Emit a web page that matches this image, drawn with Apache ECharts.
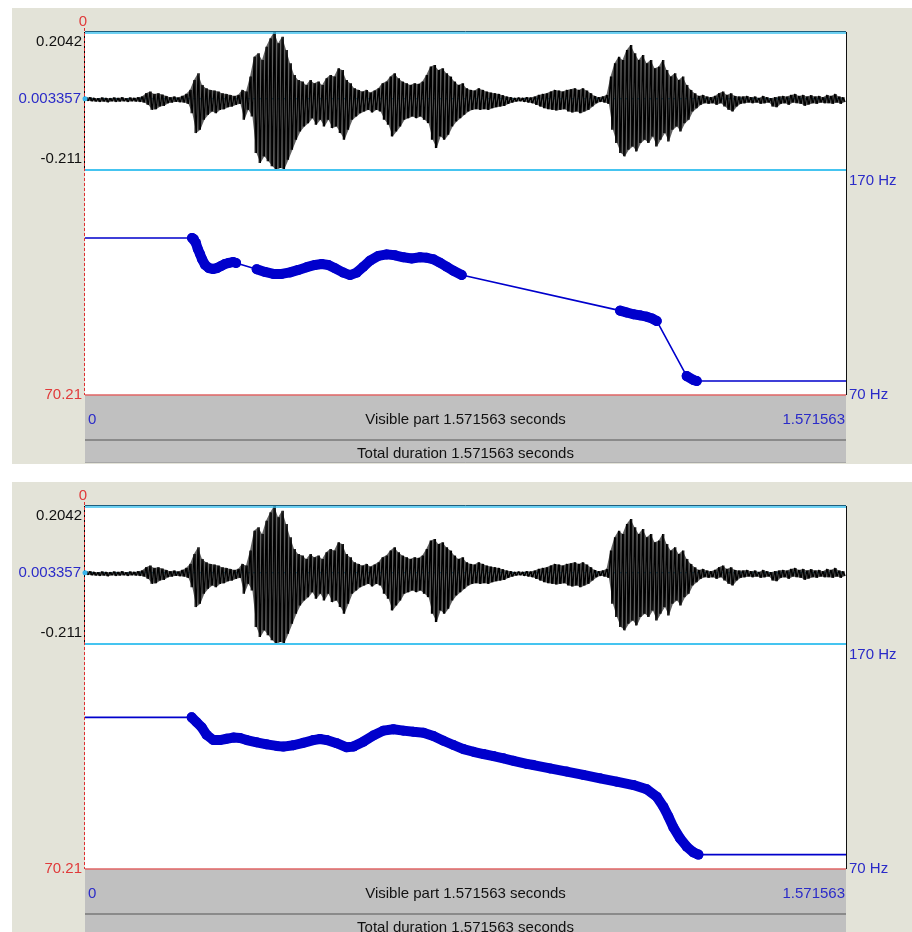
<!DOCTYPE html>
<html><head><meta charset="utf-8">
<script src="https://cdn.jsdelivr.net/npm/echarts@6/dist/echarts.min.js"></script>
<style>html,body{margin:0;padding:0;background:#fff}#c{width:912px;height:932px}</style>
</head><body><div id="c"></div>
<script>
// ---------- data ----------
const T_END = 1.571563;
const waveTicks = [0.2042, 0.003357, -0.211]; // top, centre, bottom of the sound window
const pitchRange = [70, 170];
const pitchTickLabels = ['170 Hz', '70 Hz'];
const cursorPitchLabel = '70.21';
const cursorTimeLabel = '0';

// waveform envelope (peak values per column)
const waveMax = [
0.007,0.008,0.006,0.005,0.007,0.006,0.005,0.007,0.006,0.008,0.005,0.007,0.006,0.008,0.010,
0.020,0.025,0.018,0.020,0.016,0.012,0.008,0.010,0.007,0.012,0.018,
0.030,0.060,0.080,0.045,0.035,0.030,0.028,0.025,0.020,0.018,0.015,0.012,0.015,
0.030,0.025,0.070,0.130,0.140,0.120,0.160,0.185,0.204,0.170,0.190,0.150,
0.110,0.075,0.060,0.055,0.045,0.060,0.050,0.055,0.045,0.065,0.075,0.070,
0.095,0.090,0.060,0.050,0.035,0.030,0.025,0.030,0.022,0.028,0.035,0.050,0.055,
0.070,0.080,0.065,0.055,0.050,0.045,0.050,0.048,0.055,0.075,
0.100,0.105,0.090,0.095,0.080,0.070,0.055,0.045,0.050,0.035,
0.030,0.028,0.035,0.030,0.025,0.022,0.020,0.018,0.014,0.010,0.008,0.006,0.007,0.006,0.008,0.007,
0.010,0.015,0.018,0.020,0.025,0.030,0.028,0.025,0.030,0.032,0.035,0.030,0.035,0.028,0.020,0.012,0.008,0.010,0.015,
0.070,0.110,0.130,0.120,0.150,0.165,0.140,0.120,0.135,0.110,0.120,0.095,
0.100,0.120,0.090,0.070,0.080,0.060,0.070,0.045,0.030,0.020,0.012,
0.015,0.010,0.008,0.012,0.020,0.025,0.015,0.020,0.012,0.010,0.010,0.012,0.008,0.010,0.006,0.012,0.008,
0.005,0.008,0.010,0.012,0.010,0.015,0.018,0.012,0.015,0.010,0.014,0.010,0.012,0.008,0.015,0.012,0.018,0.010,0.008
];
const waveMin = [
-0.003,-0.004,-0.005,-0.006,-0.005,-0.007,-0.004,-0.006,-0.005,-0.004,-0.006,-0.004,-0.005,-0.006,-0.008,
-0.015,-0.030,-0.028,-0.020,-0.018,-0.010,-0.008,-0.006,-0.007,-0.008,-0.012,
-0.040,-0.100,-0.090,-0.060,-0.045,-0.035,-0.040,-0.030,-0.028,-0.022,-0.020,-0.015,-0.012,
-0.060,-0.030,-0.050,-0.160,-0.190,-0.170,-0.185,-0.200,-0.211,-0.205,-0.208,-0.180,
-0.150,-0.120,-0.095,-0.080,-0.070,-0.055,-0.075,-0.060,-0.080,-0.060,-0.085,-0.080,
-0.100,-0.120,-0.090,-0.060,-0.050,-0.040,-0.035,-0.030,-0.038,-0.030,-0.035,-0.060,-0.075,
-0.110,-0.095,-0.080,-0.060,-0.055,-0.050,-0.055,-0.050,-0.060,-0.070,
-0.120,-0.145,-0.110,-0.120,-0.105,-0.080,-0.065,-0.055,-0.045,-0.035,
-0.030,-0.028,-0.030,-0.028,-0.030,-0.025,-0.022,-0.020,-0.018,-0.012,-0.008,-0.005,-0.004,-0.006,-0.008,-0.010,
-0.015,-0.020,-0.025,-0.028,-0.030,-0.032,-0.030,-0.028,-0.035,-0.038,-0.035,-0.040,-0.035,-0.030,-0.020,-0.010,-0.006,-0.008,-0.012,
-0.090,-0.130,-0.160,-0.170,-0.150,-0.140,-0.155,-0.130,-0.120,-0.130,-0.110,-0.140,
-0.120,-0.100,-0.125,-0.090,-0.080,-0.095,-0.070,-0.060,-0.035,-0.025,-0.015,
-0.010,-0.012,-0.010,-0.015,-0.010,-0.020,-0.030,-0.035,-0.020,-0.012,-0.010,-0.008,-0.010,-0.008,-0.012,-0.010,-0.008,
-0.020,-0.022,-0.012,-0.010,-0.015,-0.008,-0.010,-0.012,-0.018,-0.014,-0.010,-0.012,-0.008,-0.010,-0.010,-0.012,-0.008,-0.012,-0.006
];

// pitch points, upper panel
const topPitchT = [0.221,0.225,0.229,0.233,0.2375,0.2416,0.248,0.256,0.2644,0.2726,0.281,0.289,0.297,0.3057,0.312,
  0.3546,0.3717,0.3889,0.4062,0.4234,0.4406,0.4579,0.475,0.4888,0.5025,0.5163,0.5335,0.5473,0.5611,0.5748,0.5886,0.6058,0.6231,0.6403,0.6574,0.6747,0.6919,0.7057,0.7193,0.7332,0.747,0.7607,0.778,
  1.105,1.118,1.1324,1.146,1.160,1.171,1.1807,
  1.2426,1.2563,1.2633];
const topPitchHz = [139.8,139.3,137.6,134.9,132.7,130.4,127.8,126.4,126.0,126.4,127.3,128.2,128.7,129.1,128.7,
  125.9,124.7,123.8,123.8,124.5,125.6,126.8,127.8,128.2,127.8,126.3,124.4,123.3,124.4,127.0,129.7,131.8,132.5,132.1,131.2,130.7,131.2,131.0,130.3,128.8,127.0,125.2,123.3,
  107.5,106.7,105.9,105.4,104.8,104.0,102.9,
  78.4,76.7,76.2];

// pitch points, lower panel
const botPitchT = [0.2203,0.2306,0.2409,0.2513,0.265,0.2788,0.2926,0.3064,0.3201,0.3339,0.3545,0.3752,0.3958,0.4096,0.4303,0.4509,0.4716,0.4853,0.4991,0.5198,
  0.5404,0.5542,0.5748,0.5955,0.6162,0.6368,0.6575,0.6781,0.6988,0.7194,0.7401,0.7608,0.7814,0.8021,0.8227,0.8434,0.864,0.8847,0.9122,0.9259,
  0.9603,0.9948,1.0292,1.0636,1.098,1.1325,1.16,1.1807,1.1945,1.2048,1.2151,1.2289,1.2427,1.2565,1.2668];
const botPitchHz = [137.4,135.2,133.0,129.6,127.3,127.3,127.9,128.4,128.2,127.3,126.3,125.4,124.7,124.4,125.0,126.1,127.3,127.8,127.3,125.9,
  124.1,124.4,126.6,129.3,131.5,132.1,131.5,131.0,130.6,129.1,127.0,125.1,123.3,122.1,121.1,120.2,119.2,118.1,116.7,116.2,
  114.7,113.3,111.8,110.3,108.8,107.3,105.4,102.1,97.7,93.3,88.5,83.6,79.9,77.4,76.4];

// ---------- rendering ----------
const FONT = '15px "Liberation Sans", Arial, sans-serif';
const PITCH_BLUE = '#0000CC';
const LBL_BLUE = '#2B2BC8';
const LBL_RED = '#E03A3A';
const BEIGE = '#E3E3D8';
const L = 85, W = 761, WAVE_H = 138, PITCH_H = 225;
const panels = [
  {off: 0, t: topPitchT, hz: topPitchHz},
  {off: 474, t: botPitchT, hz: botPitchHz}
];

const dt = T_END / waveMax.length;
const waveZig = [];
waveMax.forEach((v, i) => { waveZig.push([(i + 0.2) * dt, v]); waveZig.push([(i + 0.8) * dt, waveMin[i]]); });
const waveCols = waveMax.map((v, i) => [(i + 0.5) * dt, v, waveMin[i]]);

const grid = [], xAxis = [], yAxis = [], series = [];
panels.forEach((p, k) => {
  const gw = k * 2, gp = k * 2 + 1;
  grid.push({left: L, top: 32 + p.off, width: W, height: WAVE_H, show: false});
  grid.push({left: L, top: 170 + p.off, width: W, height: PITCH_H, show: false});
  [gw, gp].forEach(g => xAxis.push({type: 'value', gridIndex: g, min: 0, max: T_END, show: false}));
  yAxis.push({type: 'value', gridIndex: gw, min: waveTicks[2], max: waveTicks[0], show: false});
  yAxis.push({type: 'value', gridIndex: gp, min: pitchRange[0], max: pitchRange[1], show: false});

  series.push({type: 'line', xAxisIndex: gw, yAxisIndex: gw, z: 2, symbol: 'none', silent: true,
    data: [[0, waveTicks[1]], [T_END, waveTicks[1]]],
    lineStyle: {color: '#38B4EC', width: 1, type: [3, 3]}});
  // shaded body of the waveform between the peaks
  series.push({type: 'custom', xAxisIndex: gw, yAxisIndex: gw, z: 3, silent: true,
    data: [[0, waveTicks[1]]],
    renderItem: (params, api) => {
      const pts = waveZig.filter((d, i) => i % 2 === 0).map(d => api.coord(d))
        .concat(waveZig.filter((d, i) => i % 2 === 1).reverse().map(d => api.coord(d)));
      return {type: 'polygon', shape: {points: pts}, style: {fill: 'rgba(0,0,0,0.62)'}};
    }});
  // vertical strokes from trough to peak of every column
  series.push({type: 'custom', xAxisIndex: gw, yAxisIndex: gw, z: 4, silent: true,
    data: waveCols, encode: {x: 0, y: [1, 2]},
    renderItem: (params, api) => {
      const a = api.coord([api.value(0), api.value(1)]);
      const b = api.coord([api.value(0), api.value(2)]);
      return {type: 'line', shape: {x1: a[0], y1: a[1], x2: b[0], y2: b[1]}, style: {stroke: '#000', lineWidth: 1.2}};
    }});
  series.push({type: 'line', xAxisIndex: gw, yAxisIndex: gw, z: 5, symbol: 'none', silent: true,
    data: waveZig, lineStyle: {color: '#000', width: 1.2}});

  const pts = p.t.map((t, i) => [t, p.hz[i]]);
  series.push({type: 'line', xAxisIndex: gp, yAxisIndex: gp, z: 3, symbol: 'none', silent: true,
    data: [[0, pts[0][1]], ...pts, [T_END, pts[pts.length - 1][1]]],
    lineStyle: {color: PITCH_BLUE, width: 1.6}});
  // voiced stretches drawn as chains of big dots
  let seg = [pts[0]];
  const segs = [];
  for (let i = 1; i < pts.length; i++) {
    if (pts[i][0] - pts[i - 1][0] > 0.035) { segs.push(seg); seg = []; }
    seg.push(pts[i]);
  }
  segs.push(seg);
  segs.forEach(s => series.push({type: 'line', xAxisIndex: gp, yAxisIndex: gp, z: 4, silent: true,
    data: s, symbol: 'circle', symbolSize: 10, showAllSymbol: true,
    itemStyle: {color: PITCH_BLUE}, lineStyle: {color: PITCH_BLUE, width: 10, cap: 'round', join: 'round'}}));
});

const chart = echarts.init(document.getElementById('c'), null, {renderer: 'canvas'});
chart.setOption({animation: false, grid, xAxis, yAxis, series});

function txt(text, x, y, fill, align) {
  return {type: 'text', z: 50, silent: true,
    style: {text, x, y, fill, font: FONT, align, textAlign: align, verticalAlign: 'middle', textVerticalAlign: 'middle'}};
}
function line(x1, y1, x2, y2, stroke, lineWidth, dash) {
  return {type: 'line', z: 40, silent: true, shape: {x1, y1, x2, y2},
    style: {stroke, lineWidth, lineDash: dash || null}};
}

const elements = [];
panels.forEach((p, k) => {
  const gw = k * 2, gp = k * 2 + 1;
  const o = p.off;
  const px = (g, x, y) => chart.convertToPixel({gridIndex: g}, [x, y]);
  const [x0, yTop] = px(gw, 0, waveTicks[0]);
  const [x1, yMid] = px(gw, T_END, waveTicks[1]);
  const yBot = px(gw, 0, waveTicks[2])[1];
  const yPTop = px(gp, 0, pitchRange[1])[1];
  const yPBot = px(gp, 0, pitchRange[0])[1];

  elements.push({type: 'rect', z: -100, silent: true, shape: {x: 12, y: 8 + o, width: 900, height: 456}, style: {fill: BEIGE}});
  elements.push({type: 'rect', z: -90, silent: true, shape: {x: x0, y: yTop, width: x1 - x0, height: yPBot - yTop}, style: {fill: '#fff'}});
  elements.push({type: 'rect', z: -90, silent: true, shape: {x: x0, y: yPBot, width: x1 - x0, height: 68}, style: {fill: '#C0C0C0'}});
  elements.push(line(x0, yPBot + 45, x1, yPBot + 45, '#8A8A8A', 2));
  elements.push(line(x0, yPBot + 67.5, x1, yPBot + 67.5, '#A8A8A8', 1));
  // sound window frame
  elements.push(line(x0, yTop - 0.5, x1, yTop - 0.5, '#1E5F7E', 1));
  elements.push(line(x0, yTop + 1, x1, yTop + 1, '#3CC0EE', 1.5));
  elements.push(line(x0, yBot, x1, yBot, '#45C4F0', 2));
  elements.push(line(x1 + 0.5, yTop, x1 + 0.5, yPBot, '#111', 1));
  elements.push(line(x0 - 0.5, yTop, x0 - 0.5, yBot, '#000', 1));
  elements.push(line(x0 - 0.5, yTop - 4, x0 - 0.5, yPBot, '#E03030', 1, [3, 2]));
  elements.push(line(x0, yPBot, x1, yPBot, '#E06464', 1.5));
  elements.push({type: 'circle', z: 45, silent: true, shape: {cx: x0, cy: yMid, r: 2.5}, style: {fill: '#38B4EC'}});
  // labels
  elements.push(txt(cursorTimeLabel, x0 - 2, yTop - 10, LBL_RED, 'center'));
  elements.push(txt(String(waveTicks[0]), x0 - 3, yTop + 10, '#111', 'right'));
  elements.push(txt(String(waveTicks[1]), x0 - 4, yMid, LBL_BLUE, 'right'));
  elements.push(txt(String(waveTicks[2]), x0 - 3, yBot - 11, '#111', 'right'));
  elements.push(txt(cursorPitchLabel, x0 - 3, yPBot, LBL_RED, 'right'));
  elements.push(txt(pitchTickLabels[0], x1 + 3, yPTop + 11, LBL_BLUE, 'left'));
  elements.push(txt(pitchTickLabels[1], x1 + 3, yPBot, LBL_BLUE, 'left'));
  elements.push(txt('0', x0 + 3, yPBot + 25, LBL_BLUE, 'left'));
  elements.push(txt(String(T_END), x1 - 1, yPBot + 25, LBL_BLUE, 'right'));
  elements.push(txt('Visible part ' + T_END + ' seconds', (x0 + x1) / 2, yPBot + 25, '#111', 'center'));
  elements.push(txt('Total duration ' + T_END + ' seconds', (x0 + x1) / 2, yPBot + 59, '#111', 'center'));
});
chart.setOption({graphic: {elements}});
</script></body></html>
